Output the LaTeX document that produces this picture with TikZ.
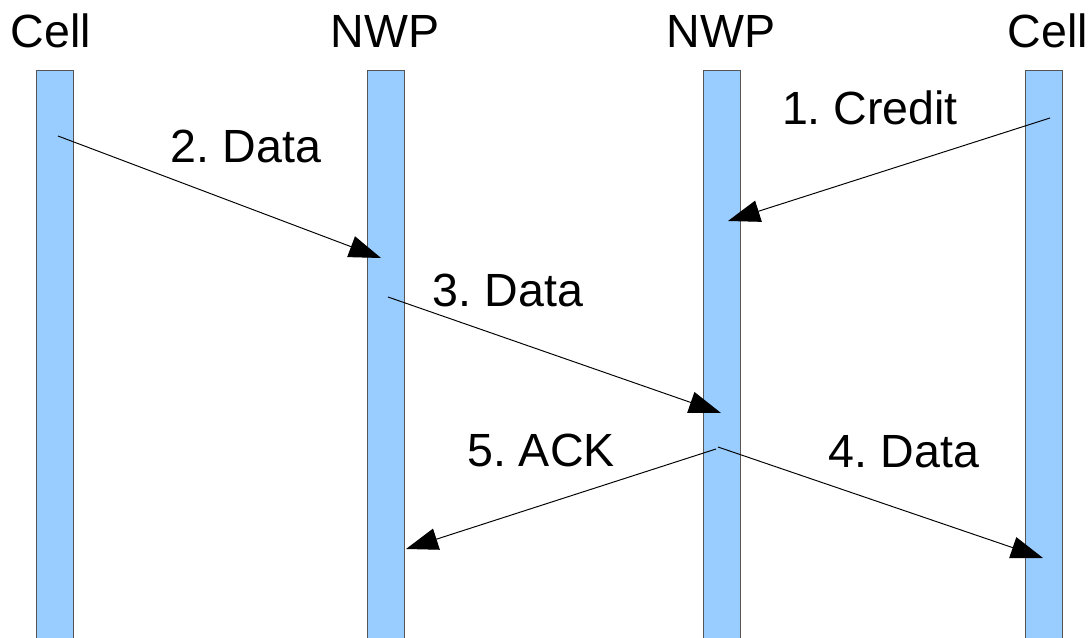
\documentclass[tikz,border=0pt]{standalone}
\usepackage{fontspec}
\setmainfont{Liberation Sans}
\usetikzlibrary{arrows.meta}
\frenchspacing

\definecolor{barblue}{HTML}{99CCFF}
\definecolor{bargray}{HTML}{555555}

\begin{document}
\begin{tikzpicture}[
  x=0.02cm, y=-0.02cm,
  lane/.style={draw=bargray, fill=barblue, line width=0.5pt, anchor=north,
    minimum width=0.74cm, minimum height=11.36cm, inner sep=0pt},
  head/.style={font=\fontsize{26.5}{30}\selectfont, inner sep=0pt},
  msg/.style={font=\fontsize{26.5}{30}\selectfont, inner sep=0pt},
  arrow/.style={-{Triangle[length=0.64cm, width=0.44cm]}, line width=0.55pt}
]
\useasboundingbox (0,0) rectangle (1092,638);

% lanes
\node[lane] (cellL) at (54.5,70) {};
\node[lane] (nwpL) at (385.5,70) {};
\node[lane] (nwpR) at (721.5,70) {};
\node[lane] (cellR) at (1043.5,70) {};

\node[head] (hcellL) at (51,31) {Cell};
\node[head] (hnwpL) at (385,31) {NWP};
\node[head] (hnwpR) at (721,31) {NWP};
\node[head] (hcellR) at (1048,31) {Cell};

% message end points
\coordinate (p1s) at (1050,118);
\coordinate (p1e) at (728,221);
\coordinate (p2s) at (58,136);
\coordinate (p2e) at (381,258);
\coordinate (p3s) at (388,297);
\coordinate (p3e) at (721,413);
\coordinate (p4s) at (718,447);
\coordinate (p4e) at (1043,558);
\coordinate (p5s) at (716,449);
\coordinate (p5e) at (406,549);

\draw[arrow] (p1s) -- (p1e);
\draw[arrow] (p2s) -- (p2e);
\draw[arrow] (p3s) -- (p3e);
\draw[arrow] (p4s) -- (p4e);
\draw[arrow] (p5s) -- (p5e);

\node[msg] (m1) at (870,108) {1. Credit};
\node[msg] (m2) at (246,146) {2. Data};
\node[msg] (m3) at (508,290) {3. Data};
\node[msg] (m4) at (904,452) {4. Data};
\node[msg] (m5) at (541,450) {5. ACK};
\end{tikzpicture}
\end{document}
